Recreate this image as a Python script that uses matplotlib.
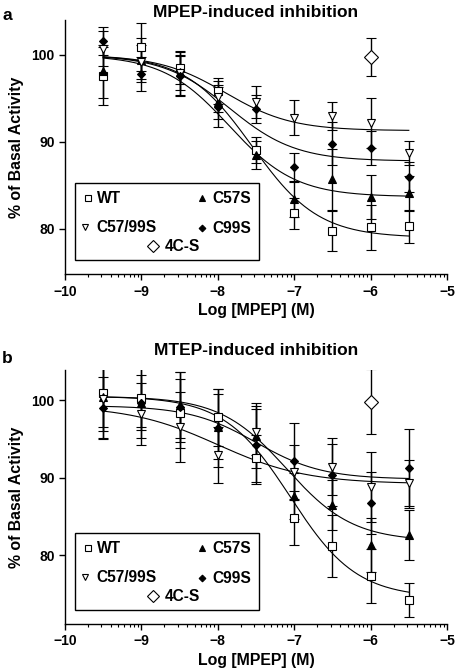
import matplotlib
matplotlib.use("Agg")
import matplotlib.pyplot as plt
import numpy as np
from matplotlib.patches import Rectangle

plt.rcParams['font.family'] = ['Liberation Sans', 'DejaVu Sans']
plt.rcParams['font.weight'] = 'bold'

log_conc = [-9.5, -9.0, -8.5, -8.0, -7.5, -7.0, -6.5, -6.0, -5.5]
series = ["WT", "C57S", "C57/99S", "C99S"]

# panel a: MPEP
a_wt = [97.6, 100.9, 98.5, 95.9, 89.1, 81.8, 79.8, 80.2, 80.3]
a_wt_err = [3.3, 2.8, 1.8, 1.5, 1.5, 1.8, 2.3, 2.6, 1.9]
a_c57s = [98.1, 99.4, 98.0, 94.6, 88.5, 83.4, 85.7, 83.7, 84.1]
a_c57s_err = [3.0, 2.5, 2.0, 2.0, 1.6, 2.0, 3.5, 2.5, 2.0]
a_c5799 = [100.7, 99.2, 97.9, 95.2, 94.6, 92.8, 93.0, 92.2, 88.7]
a_c5799_err = [2.0, 2.0, 2.5, 1.8, 1.8, 2.0, 1.6, 2.9, 1.4]
a_c99s = [101.6, 97.8, 97.6, 94.0, 93.8, 87.1, 89.8, 89.3, 86.0]
a_c99s_err = [1.6, 2.0, 2.3, 2.3, 1.6, 1.6, 2.5, 2.0, 1.7]
a_4cs_x = [-6.0]
a_4cs = [99.8]
a_4cs_err = [2.2]
# fitted curve parameters: top, bottom, logIC50, hill
a_fit_top = [100.0, 100.0, 100.0, 100.0]
a_fit_bottom = [79.0, 83.7, 91.3, 87.8]
a_fit_ic50 = [-7.55, -7.85, -7.9, -7.85]
a_fit_hill = [1.0, 1.0, 1.0, 1.0]

# panel b: MTEP
b_wt = [100.9, 100.3, 98.3, 97.8, 92.5, 84.8, 81.2, 77.3, 74.2]
b_wt_err = [4.4, 3.8, 4.5, 3.7, 3.0, 3.5, 4.0, 3.5, 2.2]
b_c57s = [100.4, 99.7, 99.4, 96.6, 95.4, 87.6, 86.5, 81.3, 82.6]
b_c57s_err = [4.4, 3.5, 4.3, 4.2, 4.2, 3.0, 3.2, 3.5, 3.2]
b_c5799 = [100.1, 98.2, 96.5, 92.9, 95.9, 90.7, 91.4, 88.8, 89.3]
b_c5799_err = [5.0, 4.0, 4.5, 3.6, 3.0, 3.5, 3.7, 4.5, 3.0]
b_c99s = [99.0, 99.6, 99.1, 96.4, 94.2, 92.1, 90.3, 86.7, 91.2]
b_c99s_err = [4.0, 4.5, 4.5, 5.0, 5.0, 5.0, 4.0, 4.0, 5.1]
b_4cs_x = [-6.0]
b_4cs = [99.8]
b_4cs_err = [4.2]
b_fit_top = [100.5, 100.5, 99.3, 99.3]
b_fit_bottom = [74.5, 81.8, 89.2, 89.8]
b_fit_ic50 = [-7.05, -7.1, -8.0, -7.5]
b_fit_hill = [1.0, 1.0, 0.75, 1.0]

markers = {"WT": ("s", "white"), "C57S": ("^", "black"),
           "C57/99S": ("v", "white"), "C99S": ("D", "black")}
msizes = {"WT": 5.5, "C57S": 5.5, "C57/99S": 5.5, "C99S": 4.2}


def hill(x, top, bottom, ic50, h):
    return bottom + (top - bottom) / (1 + 10 ** (h * (x - ic50)))


def draw_panel(ax, title, tpad, vals, errs, fx, fy, fe, tops, bottoms, ics, hills, ylim):
    xs = np.linspace(log_conc[0], log_conc[-1], 200)
    for i in range(4):
        ax.plot(xs, hill(xs, tops[i], bottoms[i], ics[i], hills[i]),
                color="black", lw=0.8, zorder=2)
    for name, v, e in zip(series, vals, errs):
        m, fc = markers[name]
        ax.errorbar(log_conc, v, yerr=e, fmt=m, ms=msizes[name], mfc=fc,
                    mec="black", mew=0.8, ecolor="black", elinewidth=1.0,
                    capsize=3.5, capthick=1.0, zorder=3)
    ax.errorbar(fx, fy, yerr=fe, fmt="D", ms=7, mfc="white", mec="black",
                mew=0.8, ecolor="black", elinewidth=1.0, capsize=3.5,
                capthick=1.0, zorder=3)

    ax.set_xlim(-10, -5)
    ax.set_ylim(*ylim)
    ax.set_xticks([-10, -9, -8, -7, -6, -5])
    minors = [d + np.log10(k) for d in range(-10, -5) for k in range(2, 10)]
    ax.set_xticks(minors, minor=True)
    ax.set_yticks([80, 90, 100])
    ax.tick_params(axis="both", which="major", direction="out", length=4,
                   width=1, labelsize=10)
    ax.tick_params(axis="x", which="minor", direction="out", length=2.5, width=0.8)
    for s in ["top", "right"]:
        ax.spines[s].set_visible(False)
    for s in ["left", "bottom"]:
        ax.spines[s].set_linewidth(1.0)
    for lab in ax.get_xticklabels() + ax.get_yticklabels():
        lab.set_fontweight("bold")
    ax.set_title(title, fontsize=12.5, fontweight="bold", pad=tpad)
    ax.set_xlabel("Log [MPEP] (M)", fontsize=11.4, fontweight="bold", labelpad=3)
    ax.set_ylabel("% of Basal Activity", fontsize=11.4, fontweight="bold", labelpad=5)

    # legend box
    ax.add_patch(Rectangle((0.026, 0.056), 0.482, 0.302, transform=ax.transAxes,
                           fill=False, edgecolor="black", lw=1.0, zorder=4))
    ent = [("WT", 0.060, 0.084, 0.299), ("C57S", 0.359, 0.385, 0.299),
           ("C57/99S", 0.052, 0.081, 0.185), ("C99S", 0.359, 0.385, 0.180)]
    for name, mx, tx, ty in ent:
        m, fc = markers[name]
        ax.plot([mx], [ty], marker=m, ms=msizes[name] - 0.8, mfc=fc, mec="black",
                mew=0.8, transform=ax.transAxes, zorder=5, clip_on=False)
        ax.text(tx, ty, name, transform=ax.transAxes, fontsize=11.2,
                fontweight="bold", va="center", ha="left", zorder=5)
    ax.plot([0.230], [0.110], marker="D", ms=6, mfc="white", mec="black",
            mew=0.8, transform=ax.transAxes, zorder=5, clip_on=False)
    ax.text(0.262, 0.110, "4C-S", transform=ax.transAxes, fontsize=11.2,
            fontweight="bold", va="center", ha="left", zorder=5)


fig = plt.figure(figsize=(4.58, 6.72), dpi=100)
ax1 = fig.add_axes([0.142, 0.592, 0.834, 0.378])
ax2 = fig.add_axes([0.142, 0.0714, 0.834, 0.378])

draw_panel(ax1, "MPEP-induced inhibition", 1,
           [a_wt, a_c57s, a_c5799, a_c99s],
           [a_wt_err, a_c57s_err, a_c5799_err, a_c99s_err],
           a_4cs_x, a_4cs, a_4cs_err,
           a_fit_top, a_fit_bottom, a_fit_ic50, a_fit_hill, (74.8, 104.0))
draw_panel(ax2, "MTEP-induced inhibition", 11,
           [b_wt, b_c57s, b_c5799, b_c99s],
           [b_wt_err, b_c57s_err, b_c5799_err, b_c99s_err],
           b_4cs_x, b_4cs, b_4cs_err,
           b_fit_top, b_fit_bottom, b_fit_ic50, b_fit_hill, (71.1, 103.9))

fig.text(0.005, 0.988, "a", fontsize=12.5, fontweight="bold", va="top")
fig.text(0.005, 0.478, "b", fontsize=12.5, fontweight="bold", va="top")

fig.savefig("out.png", dpi=100)
